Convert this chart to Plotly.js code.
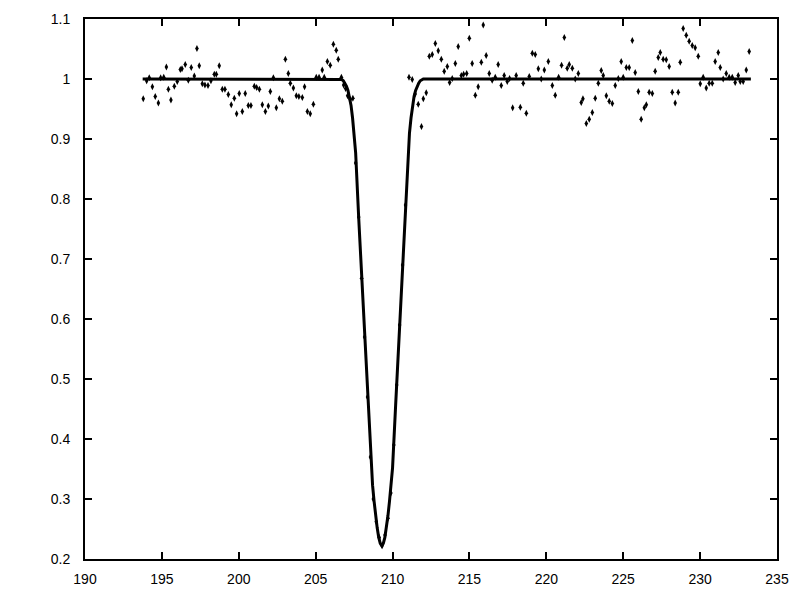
<!DOCTYPE html>
<html>
<head>
<meta charset="utf-8">
<script src="https://cdn.plot.ly/plotly-3.0.1.min.js"></script>
<style>html,body{margin:0;padding:0;background:#fff;}#chart{width:800px;height:600px;}</style>
</head>
<body>
<div id="chart"></div>
<script>
// Observed data points
const obsX = [193.79,194.01,194.18,194.38,194.57,194.77,194.92,195.12,195.29,195.42,195.59,195.81,196.00,196.20,196.31,196.52,196.72,196.91,197.11,197.28,197.43,197.63,197.80,198.00,198.19,198.41,198.54,198.73,198.93,199.10,199.32,199.51,199.71,199.86,200.03,200.23,200.42,200.62,200.79,201.01,201.16,201.34,201.53,201.73,201.92,202.05,202.25,202.44,202.64,202.83,203.03,203.22,203.35,203.55,203.74,203.91,204.13,204.28,204.46,204.65,204.85,205.04,205.22,205.43,205.56,205.76,205.95,206.15,206.34,206.47,206.67,206.82,206.95,207.08,207.25,207.42,207.60,207.80,207.99,208.18,208.37,208.56,208.75,208.94,209.13,209.32,209.51,209.70,209.89,210.08,210.27,210.46,210.65,210.84,211.07,211.28,211.47,211.67,211.88,212.00,212.19,212.39,212.58,212.78,212.97,213.17,213.36,213.56,213.71,213.88,214.08,214.27,214.47,214.62,214.82,214.99,215.18,215.38,215.57,215.77,215.90,216.09,216.29,216.48,216.68,216.87,217.07,217.26,217.46,217.61,217.81,218.04,218.31,218.50,218.70,218.89,219.09,219.28,219.48,219.67,219.87,220.13,220.39,220.58,220.80,220.99,221.17,221.36,221.49,221.69,221.88,222.08,222.27,222.38,222.60,222.79,222.99,223.18,223.38,223.57,223.70,223.90,224.09,224.29,224.48,224.68,224.87,225.00,225.20,225.39,225.59,225.78,225.98,226.17,226.37,226.50,226.69,226.89,227.08,227.28,227.41,227.60,227.80,227.99,228.19,228.38,228.58,228.71,228.90,229.10,229.29,229.49,229.68,229.88,230.01,230.20,230.40,230.59,230.79,230.98,231.18,231.31,231.50,231.70,231.89,232.09,232.28,232.48,232.61,232.80,233.00,233.19];
const obsY = [0.967,0.997,1.002,0.987,0.971,0.960,1.002,1.003,1.020,0.983,0.965,0.988,0.996,1.016,1.017,1.024,0.998,1.019,1.005,1.051,1.022,0.992,0.990,0.989,0.997,1.008,1.008,1.022,0.983,0.983,0.974,0.957,0.968,0.942,0.976,0.946,0.976,0.956,0.956,0.988,0.986,0.983,0.957,0.946,0.955,0.979,1.002,0.952,0.967,0.963,1.033,1.009,0.993,0.985,0.972,0.971,0.969,0.987,0.946,0.942,0.958,1.003,1.003,1.015,1.003,1.029,1.023,1.058,1.048,1.033,1.003,0.990,0.984,0.972,0.966,0.968,0.86,0.77,0.668,0.57,0.47,0.37,0.30,0.262,0.236,0.222,0.24,0.268,0.31,0.39,0.49,0.59,0.69,0.79,1.003,0.999,0.975,0.958,0.921,0.967,0.977,1.038,1.041,1.059,1.047,1.033,1.013,1.021,0.994,1.001,1.026,1.054,1.006,1.008,1.009,1.068,1.026,0.973,0.987,1.028,1.090,1.039,1.009,0.998,1.003,1.024,0.989,1.006,0.996,1.001,0.952,1.006,0.953,0.993,0.943,1.004,1.043,1.041,1.017,1.000,1.015,1.029,0.989,0.973,1.003,1.023,1.069,1.018,1.024,1.018,1.000,1.009,0.961,0.967,0.926,0.933,0.944,0.968,0.993,1.014,1.006,0.972,0.963,0.959,0.989,1.001,1.029,1.003,1.019,1.019,1.064,1.011,0.979,0.933,0.952,0.957,0.978,0.976,1.013,1.036,1.044,1.033,1.032,1.021,0.978,0.960,0.978,1.028,1.084,1.073,1.063,1.056,1.052,1.038,0.992,1.003,0.985,0.993,0.993,1.029,1.044,1.019,1.000,1.009,1.003,1.003,0.994,1.006,0.996,0.996,1.015,1.046];

// Model curve
const modelX = [193.75,206.60,206.70,206.80,206.90,207.00,207.10,207.20,207.30,207.40,207.50,207.60,207.80,208.00,208.20,208.40,208.60,208.70,208.80,208.90,209.00,209.10,209.20,209.30,209.40,209.50,209.60,209.70,209.80,209.90,210.00,210.20,210.40,210.60,210.80,211.00,211.10,211.20,211.30,211.40,211.50,211.60,211.70,211.80,211.90,212.00,233.30];
const modelY = [1.0,1.0,0.999,0.997,0.993,0.988,0.981,0.971,0.956,0.935,0.91,0.877,0.768,0.664,0.56,0.456,0.352,0.323,0.296,0.272,0.252,0.236,0.226,0.222,0.226,0.236,0.252,0.272,0.296,0.323,0.352,0.456,0.56,0.664,0.768,0.877,0.91,0.935,0.956,0.971,0.981,0.988,0.993,0.997,0.999,1.0,1.0];

const xTicks = [190,195,200,205,210,215,220,225,230,235];
const yTicks = [0.2,0.3,0.4,0.5,0.6,0.7,0.8,0.9,1,1.1];

const fontSpec = {family: 'Liberation Sans, Arial, sans-serif', size: 14, color: '#000'};

const traces = [
  {x: obsX, y: obsY, mode: 'markers', type: 'scatter',
   marker: {symbol: 'diamond-tall', size: 5, color: '#000'}, hoverinfo: 'skip'},
  {x: modelX, y: modelY, mode: 'lines', type: 'scatter',
   line: {color: '#000', width: 3}, hoverinfo: 'skip'}
];

const axisCommon = {
  showgrid: false, zeroline: false, showline: true, linecolor: '#000', linewidth: 2,
  mirror: 'ticks', ticks: 'inside', ticklen: 7, tickwidth: 2, tickcolor: '#000',
  tickfont: fontSpec
};

const layout = {
  width: 800, height: 600,
  margin: {l: 85, r: 23, t: 19, b: 41},
  paper_bgcolor: '#fff', plot_bgcolor: '#fff',
  showlegend: false,
  font: fontSpec,
  xaxis: Object.assign({}, axisCommon, {range: [190, 235], tickvals: xTicks, ticktext: xTicks.map(String), ticklabelstandoff: 6}),
  yaxis: Object.assign({}, axisCommon, {range: [0.2, 1.1], tickvals: yTicks, ticktext: yTicks.map(String), ticklabelstandoff: 10})
};

Plotly.newPlot('chart', traces, layout, {staticPlot: true, displayModeBar: false});
</script>
</body>
</html>
